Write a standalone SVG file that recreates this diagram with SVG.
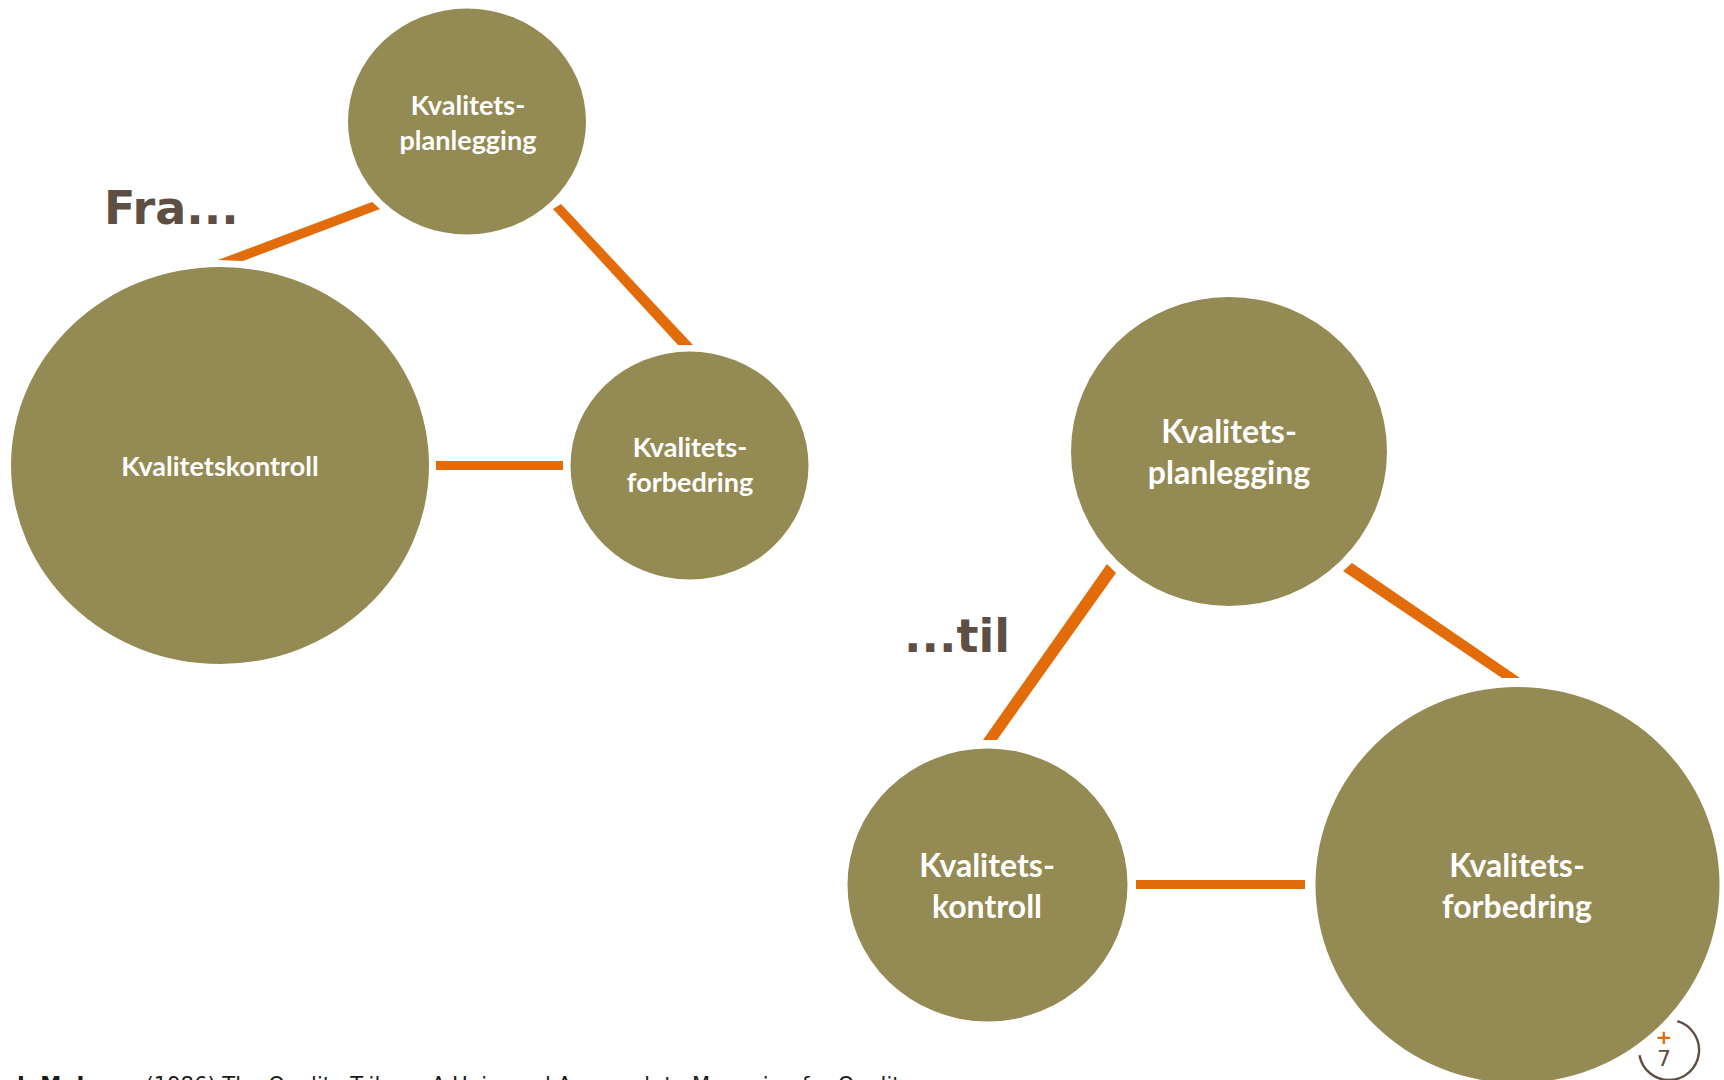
<svg xmlns="http://www.w3.org/2000/svg" width="1724" height="1080" viewBox="0 0 1724 1080">
  <style>
    .node { fill: #948A54; }
    .link { fill: #E36C0A; }
    .lbl { font-family: Lato, "Open Sans", "Liberation Sans", sans-serif; font-weight: bold; fill: #FFFFFF; text-anchor: middle; }
    .sm { font-size: 27px; }
    .lg { font-size: 32px; }
    .head { font-family: "DejaVu Sans", Verdana, sans-serif; font-weight: bold; font-size: 46px; fill: #5E4E44; }
    .cite { font-family: "DejaVu Sans", Verdana, sans-serif; font-size: 21px; fill: #1A1A1A; }
  </style>
  <rect width="1724" height="1080" fill="#FFFFFF"/>

  <!-- connectors -->
  <g id="connectors">
    <polygon class="link" points="218,260 372,202 380,209 243,261"/>
    <polygon class="link" points="553,209 561,204 693,345 678,345"/>
    <rect class="link" x="436" y="461" width="127" height="9"/>
    <polygon class="link" points="1107,564 1116,573 997,740 983,740"/>
    <polygon class="link" points="1352,563 1520,678 1502,678 1343,571"/>
    <rect class="link" x="1136" y="880" width="169" height="9"/>
  </g>

  <!-- before: quality control dominates -->
  <g id="fra-planlegging">
    <ellipse class="node" cx="467" cy="121.5" rx="119" ry="113"/>
    <text class="lbl sm" x="468" y="115">Kvalitets-</text>
    <text class="lbl sm" x="468" y="150">planlegging</text>
  </g>
  <g id="fra-kontroll">
    <ellipse class="node" cx="220" cy="465.5" rx="209" ry="198.5"/>
    <text class="lbl sm" x="220" y="476">Kvalitetskontroll</text>
  </g>
  <g id="fra-forbedring">
    <ellipse class="node" cx="689.5" cy="465.5" rx="119" ry="114"/>
    <text class="lbl sm" x="690" y="457">Kvalitets-</text>
    <text class="lbl sm" x="690" y="492">forbedring</text>
  </g>

  <!-- after: improvement dominates -->
  <g id="til-planlegging">
    <ellipse class="node" cx="1229" cy="451.5" rx="158" ry="154.5"/>
    <text class="lbl lg" x="1229" y="443">Kvalitets-</text>
    <text class="lbl lg" x="1229" y="484">planlegging</text>
  </g>
  <g id="til-kontroll">
    <ellipse class="node" cx="987.5" cy="885" rx="140" ry="136.5"/>
    <text class="lbl lg" x="987" y="877">Kvalitets-</text>
    <text class="lbl lg" x="987" y="918">kontroll</text>
  </g>
  <g id="til-forbedring">
    <ellipse class="node" cx="1517.5" cy="885" rx="202" ry="198"/>
    <text class="lbl lg" x="1517" y="877">Kvalitets-</text>
    <text class="lbl lg" x="1517" y="918">forbedring</text>
  </g>

  <!-- headings -->
  <text class="head" x="104" y="224">Fra...</text>
  <text class="head" x="904" y="652">...til</text>

  <!-- source line, cut by the page edge -->
  <text class="cite" x="17" y="1092" textLength="896" lengthAdjust="spacingAndGlyphs"><tspan font-weight="bold">J. M. Juran</tspan> (1986) The Quality Trilogy: A Universal Approach to Managing for Quality</text>

  <!-- page badge -->
  <g id="badge">
    <path d="M1677.3,1021.2 A30,30 0 1 1 1639.5,1055.2" fill="none" stroke="#5E4E44" stroke-width="2.4"/>
    <text x="1664" y="1044" font-family="'DejaVu Sans', sans-serif" font-weight="bold" font-size="20" fill="#E36C0A" text-anchor="middle">+</text>
    <text x="1664" y="1066" font-family="'DejaVu Sans', sans-serif" font-size="22" fill="#5E4E44" text-anchor="middle">7</text>
  </g>
</svg>
